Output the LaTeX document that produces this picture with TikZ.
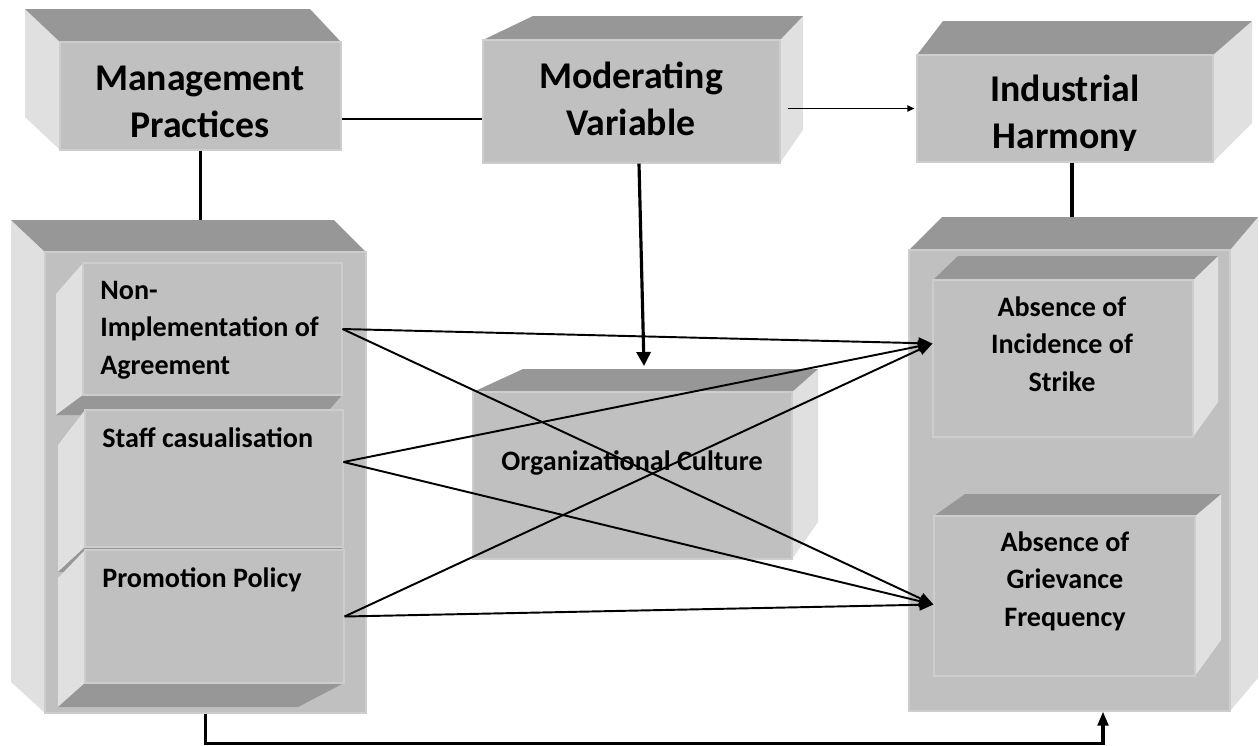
\documentclass[tikz,border=0pt]{standalone}
\usepackage{fontspec}
\setmainfont{Carlito}
\usepackage{tikz}
\usetikzlibrary{arrows.meta}
\definecolor{faceFront}{HTML}{C0C0C0}
\definecolor{faceTop}{HTML}{979797}
\definecolor{faceSide}{HTML}{E0E0E0}
\definecolor{faceEdge}{HTML}{CDCDCD}
\tikzset{face/.style={draw=faceEdge, fill=faceFront, line width=0.6pt,
  inner sep=0pt}}
\tikzset{sl/.style={fill=faceSide}}
\tikzset{sd/.style={fill=faceTop}}
\tikzset{hd/.style={font=\fontsize{21.5}{26.5}\selectfont\bfseries,
  align=center, inner sep=0pt}}
\tikzset{it/.style={font=\fontsize{16}{21.3}\selectfont\bfseries,
  inner sep=0pt}}
\tikzset{ln/.style={draw, line width=1.2pt}}
\tikzset{lnb/.style={draw, line width=1.8pt}}
\tikzset{ar/.style={draw, line width=1.1pt, -{Triangle[length=8pt,width=6.5pt]}}}
\tikzset{arb/.style={draw, line width=1.8pt, -{Triangle[length=8pt,width=8pt]}}}
\tikzset{art/.style={draw, line width=0.8pt, -{Triangle[length=4pt,width=3.5pt]}}}
% front face (#2,#3)-(#4,#5); back face pushed by #6/#7 (left/right edge)
% and #8/#9 (top/bottom edge); only the faces that show are filled
\newcommand\solidbox[9]{%
  \ifdim #6pt<0pt \fill[sl] (#2,#3) -- ({#2+(#6)},{#3+(#8)})
    -- ({#2+(#6)},{#5+(#9)}) -- (#2,#5) -- cycle; \fi
  \ifdim #7pt>0pt \fill[sl] (#4,#3) -- ({#4+(#7)},{#3+(#8)})
    -- ({#4+(#7)},{#5+(#9)}) -- (#4,#5) -- cycle; \fi
  \ifdim #8pt<0pt \fill[sd] (#2,#3) -- ({#2+(#6)},{#3+(#8)})
    -- ({#4+(#7)},{#3+(#8)}) -- (#4,#3) -- cycle; \fi
  \ifdim #9pt>0pt \fill[sd] (#2,#5) -- ({#2+(#6)},{#5+(#9)})
    -- ({#4+(#7)},{#5+(#9)}) -- (#4,#5) -- cycle; \fi
  \coordinate (#1-back) at ({#2+(#6)},{#3+(#8)});
  \node (#1) at ({(#2+#4)/2},{(#3+#5)/2}) [face,
    minimum width={(#4-#2)*0.02cm}, minimum height={(#5-#3)*0.02cm}] {};
}

\begin{document}
\begin{tikzpicture}[x=0.02cm, y=-0.02cm]
        \useasboundingbox (0,0) rectangle (1259,745);
        %% top row
        \solidbox{mgmt}{60}{42}{341}{150}{-35}{-31}{-33}{-33}
        \solidbox{mod}{483}{40}{780}{163}{50}{23}{-24}{-33}
        \solidbox{ind}{917}{55}{1213}{162}{26}{39}{-34}{-39}
        %% left column
        \solidbox{left}{45}{252}{366}{713}{-34}{-32}{-32}{-31}
        \solidbox{agree}{83}{263}{342}{395}{-27}{-17}{31}{20}
        \solidbox{staff}{85}{410}{343}{547}{-27}{-20}{35}{25}
        \solidbox{promo}{85}{550}{344}{683}{-27}{-46}{28}{24}
        %% middle
        \solidbox{org}{473}{392}{792}{559}{50}{26}{-23}{-37}
        %% right column
        \solidbox{right}{909}{250}{1230}{711}{33}{28}{-33}{-33}
        \solidbox{strike}{933}{280}{1193}{437}{25}{25}{-24}{-35}
        \solidbox{griev}{934}{516}{1195}{676}{31}{26}{-22}{-36}
        %% labels (base = last line)
        \node (mgmtT) at (200,137) [hd, anchor=base] {Management\\Practices};
        \node (modT) at (631,135) [hd, anchor=base] {Moderating\\Variable};
        \begin{scope}
            \clip (ind.north west) rectangle ([yshift=0.24cm]ind.south east);
            \node (indT) at (1065,148) [hd, anchor=base] {Industrial\\Harmony};
        \end{scope}
        \node (agreeT) at (100,374) [it, anchor=base west, align=left]
            {Non-\\Implementation of\\Agreement};
        \node (staffT) at (102,447) [it, anchor=base west] {Staff casualisation};
        \node (promoT) at (102,587) [it, anchor=base west] {Promotion Policy};
        \node (orgT) at (632,470) [it, anchor=base] {Organizational Culture};
        \node (strikeT) at (1062,391) [it, anchor=base, align=center]
            {Absence of\\Incidence of\\Strike};
        \node (grievT) at (1065,626) [it, anchor=base, align=center]
            {Absence of\\Grievance\\Frequency};
        %% connectors
        \coordinate (strikeIn) at ([yshift=0.3cm]strike.west);
        \coordinate (grievIn) at ([yshift=-0.17cm]griev.west);
        \coordinate (orgIn) at (644,366);
        \draw [ln] ([yshift=-0.46cm]mgmt.east) -- ([yshift=-0.46cm]mgmt.east -| mod.west);
        \draw [art] ([xshift=0.14cm]mod.east |- ind.west) -- ([xshift=-0.04cm]ind.west);
        \draw [lnb] (mgmt.south) -- (mgmt.south |- left-back);
        \draw [lnb] ([xshift=0.14cm]ind.south) -- ([xshift=0.14cm]ind.south |- right-back);
        \draw [arb] ([xshift=0.15cm]mod.south) -- (orgIn);
        \draw [ar] (agree.east) -- (strikeIn);
        \draw [ar] (agree.east) -- (grievIn);
        \draw [ar] ([yshift=0.33cm]staff.east) -- (strikeIn);
        \draw [ar] ([yshift=0.33cm]staff.east) -- (grievIn);
        \draw [ar] (promo.east) -- (strikeIn);
        \draw [ar] (promo.east) -- (grievIn);
        \draw [arb, -{Triangle[length=8pt,width=6pt]}] (left.south) -- ++(0,30)
            -| ([xshift=0.67cm]right.south);
\end{tikzpicture}
\end{document}
